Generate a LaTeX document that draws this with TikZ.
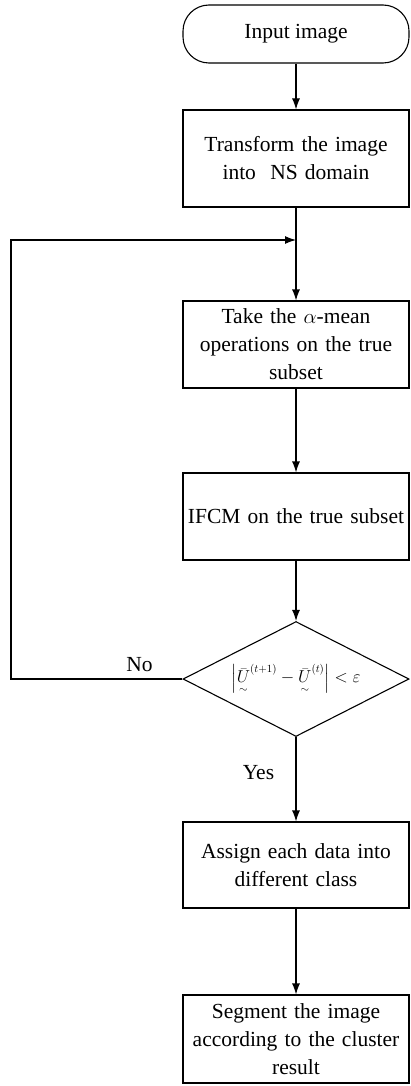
\documentclass[tikz,border=0pt]{standalone}
\usepackage{amsmath}
\usepackage{amssymb}
\usepackage{fontspec}
\setmainfont{Liberation Serif}
\usetikzlibrary{shapes.geometric,arrows.meta}

\tikzset{
  startbox/.style={draw, rectangle, rounded corners=26pt, minimum width=226pt, minimum height=58pt},
  stepbox/.style={draw, rectangle, minimum width=226pt, minimum height=87pt, text width=222pt, align=center, inner sep=2pt},
  testbox/.style={draw, diamond, aspect=2, minimum width=226pt, minimum height=115pt, inner sep=0pt}
}

\begin{document}
\begin{tikzpicture}[x=1pt, y=1pt, line width=1.1pt, >={Latex[length=11pt,width=8pt]}, font=\fontsize{21.5}{28}\selectfont]
    \useasboundingbox (0,0) rectangle (411,-1086);

        % Nodi
        \node[startbox] (in) at (296,-34) {Input image};
        \node[stepbox, minimum height=97pt] (tr) at (296,-158.5) {Transform the image\\into\ \ NS domain};
        \node[stepbox] (mean) at (296,-344.5) {Take the $\alpha$-mean\\operations on the true\\subset};
        \node[stepbox] (ifcm) at (296,-516.5) {IFCM on the true subset};
        \node[testbox] (conv) at (296,-679) {\fontsize{16}{19}\selectfont $\left|\underset{\sim}{\bar{U}}^{(t+1)}-\underset{\sim}{\bar{U}}^{(t)}\right|<\varepsilon$};
        \node[stepbox, minimum height=86pt] (assign) at (296,-865) {Assign each data into\\different class};
        \node[stepbox, minimum height=88pt] (seg) at (296,-1039) {Segment the image\\according to the cluster\\result};
        \coordinate (join) at (296,-240);
        \coordinate (back) at (11,-240);

        % Archi
        \draw[->] (in) -- (tr);
        \draw[->] (tr) -- (mean);
        \draw[->] (mean) -- (ifcm);
        \draw[->] (ifcm) -- (conv);
        \draw[->] (conv) -- (assign) node[pos=0.42, left=18pt] (yes) {Yes}; % ramo si
        \draw[->] (assign) -- (seg);
        \draw[->] (conv.west) -| (back) node[pos=0.125, above=3pt] (no) {No} -- (join); % ritorno al ciclo

    \end{tikzpicture}
\end{document}
